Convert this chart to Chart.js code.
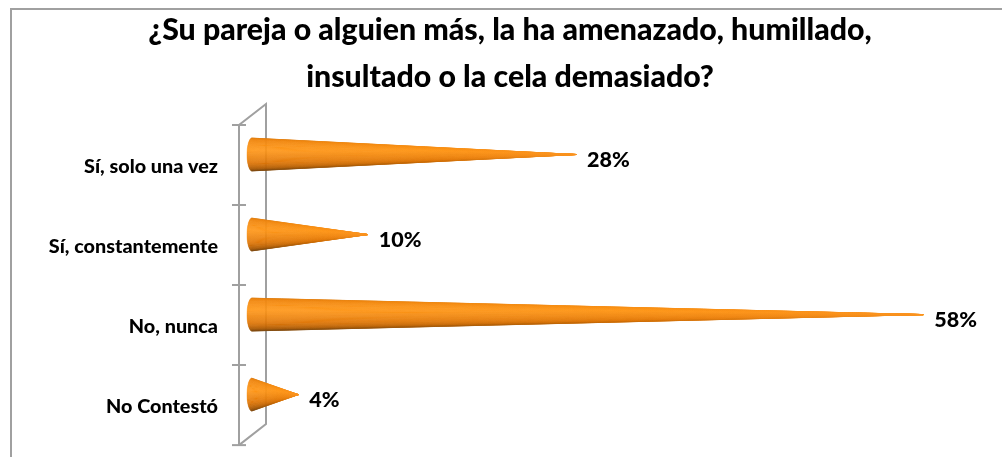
<!DOCTYPE html>
<html lang="es">
<head>
<meta charset="utf-8">
<title>Encuesta</title>
<script src="https://cdn.jsdelivr.net/npm/chart.js@4"></script>
<style>
    html, body { margin: 0; padding: 0; background: #fff; }
    #contenedor { width: 1002px; height: 457px; position: relative; }
</style>
</head>
<body>
<div id="contenedor"><canvas id="grafica"></canvas></div>
<script>
const titulo = ['¿Su pareja o alguien más, la ha amenazado, humillado,', 'insultado o la cela demasiado?'];
const categorias = ['Sí, solo una vez', 'Sí, constantemente', 'No, nunca', 'No Contestó'];
const valores = [28, 10, 58, 4];

// profundidad del efecto 3D, en pixeles
const PROF_X = 13.5;
const PROF_Y = 10.5;

// color de la cara del cono segun posicion vertical (0 arriba, 1 abajo)
function colorCono(t) {
    const paradas = [
        [0, [214, 120, 14]],
        [0.12, [236, 130, 12]],
        [0.42, [255, 150, 22]],
        [0.68, [222, 116, 4]],
        [0.88, [160, 84, 4]],
        [1, [120, 70, 16]]
    ];
    for (let i = 1; i < paradas.length; i++) {
        if (t <= paradas[i][0]) {
            const a = paradas[i - 1], b = paradas[i];
            const f = (t - a[0]) / (b[0] - a[0]);
            const c = a[1].map((v, k) => Math.round(v + (b[1][k] - v) * f));
            return `rgb(${c[0]}, ${c[1]}, ${c[2]})`;
        }
    }
    return 'rgb(120, 70, 16)';
}

function dibujarCono(ctx, xBase, xPunta, yCentro, alto) {
    const radioY = alto / 2;
    const radioX = 5;
    const pasos = 48;
    for (let i = 0; i < pasos; i++) {
        const a1 = Math.PI * (i / pasos - 0.5);
        const a2 = Math.PI * ((i + 1) / pasos - 0.5);
        // hacia la punta el sombreado se pierde y queda naranja
        const color = ctx.createLinearGradient(xBase, 0, xPunta, 0);
        color.addColorStop(0, colorCono((i + 0.5) / pasos));
        color.addColorStop(0.55, colorCono(0.25 + 0.5 * (i + 0.5) / pasos));
        color.addColorStop(1, 'rgb(250, 146, 30)');
        ctx.beginPath();
        ctx.moveTo(xPunta, yCentro);
        ctx.lineTo(xBase - radioX * Math.cos(a1), yCentro + radioY * Math.sin(a1));
        ctx.lineTo(xBase - radioX * Math.cos(a2), yCentro + radioY * Math.sin(a2));
        ctx.closePath();
        ctx.fillStyle = color;
        ctx.strokeStyle = color;
        ctx.lineWidth = 0.4;
        ctx.fill();
        ctx.stroke();
    }
}

const pluginMarco = {
    id: 'marco',
    beforeDatasetsDraw(chart) {
        const { ctx, chartArea, scales } = chart;
        const y = scales.y;
        const frente = Math.round(chartArea.left - PROF_X);
        const fondo = Math.round(chartArea.left + PROF_X);
        const medio = (y.getPixelForValue(1) - y.getPixelForValue(0)) / 2;

        ctx.save();
        ctx.strokeStyle = '#a0a0a0';
        ctx.lineWidth = 2;

        // borde exterior: solo arriba y a la izquierda
        ctx.beginPath();
        ctx.moveTo(11, chart.height);
        ctx.lineTo(11, 9);
        ctx.lineTo(chart.width, 9);
        ctx.stroke();

        // pared del eje
        ctx.beginPath();
        ctx.moveTo(frente, chartArea.bottom);
        ctx.lineTo(frente, chartArea.top);
        ctx.lineTo(fondo, chartArea.top - 2 * PROF_Y);
        ctx.lineTo(fondo, chartArea.bottom - 2 * PROF_Y);
        ctx.lineTo(frente, chartArea.bottom);
        ctx.stroke();

        // marcas entre categorias
        categorias.forEach((c, i) => {
            const p = Math.round(y.getPixelForValue(i) - medio);
            ctx.beginPath();
            ctx.moveTo(frente - 7, p);
            ctx.lineTo(frente + 7, p);
            ctx.stroke();
        });
        ctx.beginPath();
        ctx.moveTo(frente - 7, chartArea.bottom);
        ctx.lineTo(frente + 7, chartArea.bottom);
        ctx.stroke();
        ctx.restore();
    },
    afterDatasetsDraw(chart) {
        const { ctx } = chart;
        const meta = chart.getDatasetMeta(0);
        ctx.save();
        meta.data.forEach((barra, i) => {
            const yCentro = barra.y - PROF_Y;
            dibujarCono(ctx, barra.base, barra.x, yCentro, barra.height);

            ctx.fillStyle = '#000';
            ctx.font = '900 21.5px Lato';
            ctx.textAlign = 'left';
            ctx.textBaseline = 'middle';
            ctx.fillText(valores[i] + '%', barra.x + 11, barra.y - 5);
        });
        ctx.restore();
    }
};

new Chart(document.getElementById('grafica'), {
    type: 'bar',
    plugins: [pluginMarco],
    data: {
        labels: categorias,
        datasets: [{
            data: valores,
            backgroundColor: 'rgba(0, 0, 0, 0)',
            categoryPercentage: 0.41,
            barPercentage: 1
        }]
    },
    options: {
        indexAxis: 'y',
        responsive: true,
        maintainAspectRatio: false,
        animation: false,
        layout: {
            padding: { left: 18, right: 0, top: 0, bottom: 11 }
        },
        scales: {
            x: {
                display: false,
                min: 0,
                max: 64.8
            },
            y: {
                afterFit: function (scale) {
                    scale.width = 234;
                },
                border: { display: false },
                grid: {
                    drawOnChartArea: false,
                    drawTicks: true,
                    tickLength: 34,
                    tickColor: 'rgba(0, 0, 0, 0)'
                },
                ticks: {
                    padding: 0,
                    labelOffset: 2,
                    color: '#000',
                    font: { family: 'Lato', size: 19.8, weight: '900' }
                }
            }
        },
        plugins: {
            legend: { display: false },
            tooltip: { enabled: false },
            title: {
                display: true,
                text: titulo,
                color: '#000',
                font: { family: 'Lato', size: 30.3, weight: '900', lineHeight: 1.551 },
                padding: { top: 7, bottom: 24 }
            }
        }
    }
});
</script>
</body>
</html>
